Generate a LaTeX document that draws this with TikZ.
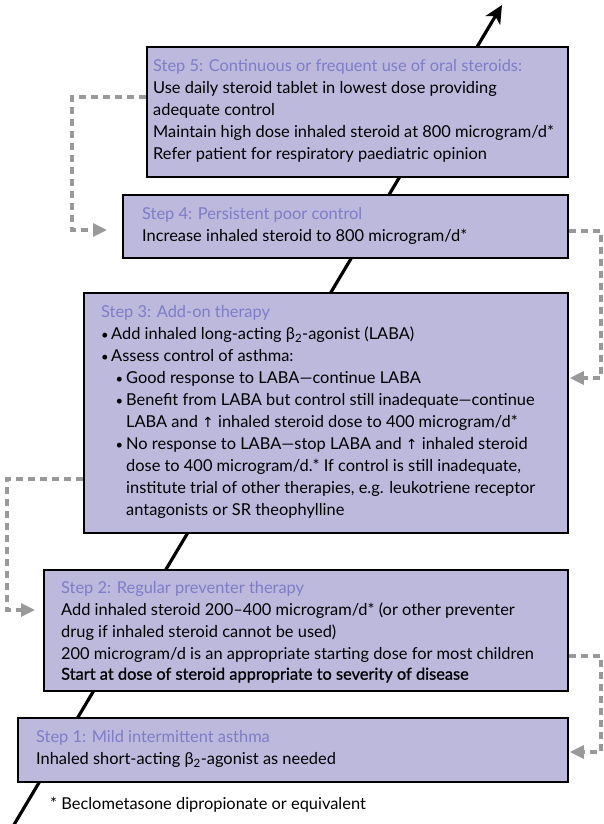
\documentclass[tikz,border=0pt]{standalone}
\usepackage{fontspec}
\setmainfont{Lato}
\newfontfamily\arrowfont{DejaVu Sans}
\newfontfamily\heavierfont[FakeBold=0.9]{Lato}
\usetikzlibrary{arrows.meta}

\definecolor{stepfill}{HTML}{BCB9DD}
\definecolor{steptitle}{HTML}{7F7CC8}
\definecolor{linkgray}{HTML}{999999}

% small helpers for the treatment text
\newcommand{\incr}{{\arrowfont\fontsize{14}{14}\selectfont ↑}}
\newcommand{\betatwo}{β\textsubscript{2}}
\newcommand{\dotmark}{\raisebox{0.5pt}{\fontsize{13}{13}\selectfont •}}
\newcommand{\bulmain}{\makebox[10pt][l]{\dotmark}}
\newcommand{\bulsub}{\hspace*{14.5pt}\makebox[10.5pt][l]{\dotmark}}
\newcommand{\subcont}{\hspace*{25pt}}
\newcommand{\steptitle}[1]{\strut\textcolor{steptitle}{#1}}

\tikzset{
  stepbox/.style={draw=black, line width=1.8pt, fill=stepfill, inner sep=0pt,
    anchor=north west},
  steptext/.style={anchor=north west, inner sep=0pt, align=left,
    font=\fontsize{16.4}{22}\selectfont},
  ladder/.style={line width=3.2pt,
    -{Stealth[length=18pt,width=17pt,inset=5pt]}},
  linkdash/.style={draw=linkgray, line width=3.2pt,
    dash pattern=on 7pt off 5pt,
    -{Triangle[length=14pt,width=13pt]}},
}

\begin{document}
\begin{tikzpicture}[x=1pt,y=-1pt]
\fill[white] (0,0) rectangle (604,824);
\useasboundingbox (0,0) rectangle (604,824);

% the rising ladder behind the steps
\coordinate (ladderfoot) at (12,828);
\coordinate (laddertop) at (502,5);
\draw[ladder] (ladderfoot) -- (laddertop);

% step boxes
\node[stepbox, minimum width=421pt, minimum height=130pt] (s5) at (146,46) {};
\node[stepbox, minimum width=445pt, minimum height=63pt]  (s4) at (122,194) {};
\node[stepbox, minimum width=484pt, minimum height=240pt] (s3) at (83,292) {};
\node[stepbox, minimum width=524pt, minimum height=121pt] (s2) at (43,569) {};
\node[stepbox, minimum width=550pt, minimum height=64pt]  (s1) at (17,717) {};

% step texts
\node[steptext] (t5) at ([xshift=7pt,yshift=-10.1pt]s5.north west) {%
\steptitle{Step 5: Continuous or frequent use of oral steroids:}\\
Use daily steroid tablet in lowest dose providing\\
adequate control\\
Maintain high dose inhaled steroid at 800 microgram/d*\\
Refer patient for respiratory paediatric opinion};

\node[steptext] (t4) at ([xshift=20pt,yshift=-10.1pt]s4.north west) {%
\steptitle{Step 4: Persistent poor control}\\
Increase inhaled steroid to 800 microgram/d*};

\node[steptext] (t3) at ([xshift=18pt,yshift=-10.1pt]s3.north west) {%
\steptitle{Step 3: Add-on therapy}\\
\bulmain Add inhaled long-acting \betatwo-agonist (LABA)\\
\bulmain Assess control of asthma:\\
\bulsub Good response to LABA—continue LABA\\
\bulsub Benefit from LABA but control still inadequate—continue\\
\subcont LABA and \incr{} inhaled steroid dose to 400 microgram/d*\\
\bulsub No response to LABA—stop LABA and \incr{} inhaled steroid\\
\subcont dose to 400 microgram/d.* If control is still inadequate,\\
\subcont institute trial of other therapies, e.g. leukotriene receptor\\
\subcont antagonists or SR theophylline};

\node[steptext] (t2) at ([xshift=18pt,yshift=-9.1pt]s2.north west) {%
\steptitle{Step 2: Regular preventer therapy}\\
Add inhaled steroid 200–400 microgram/d* (or other preventer\\
drug if inhaled steroid cannot be used)\\
200 microgram/d is an appropriate starting dose for most children\\[-2pt]
{\heavierfont Start at dose of steroid appropriate to severity of disease}};

\node[steptext] (t1) at ([xshift=19pt,yshift=-10.1pt]s1.north west) {%
\steptitle{Step 1: Mild intermittent asthma}\\
Inhaled short-acting \betatwo-agonist as needed};

\node[steptext, anchor=base west] (fn) at (50,809)
  {* Beclometasone dipropionate or equivalent};

% links between neighbouring steps
\draw[linkdash] (s5.west |- 0,97) -| (72,230)
  -- ([xshift=-15pt]s4.west |- 0,230);
\draw[linkdash] (s4.east |- 0,231) -| (601,378)
  -- ([xshift=1pt]s3.east |- 0,378);
\draw[linkdash] (s3.west |- 0,479) -| (7,610)
  -- ([xshift=-8pt]s2.west |- 0,610);
\draw[linkdash] (s2.east |- 0,656) -| (601,752)
  -- ([xshift=1pt]s1.east |- 0,752);
\end{tikzpicture}
\end{document}
